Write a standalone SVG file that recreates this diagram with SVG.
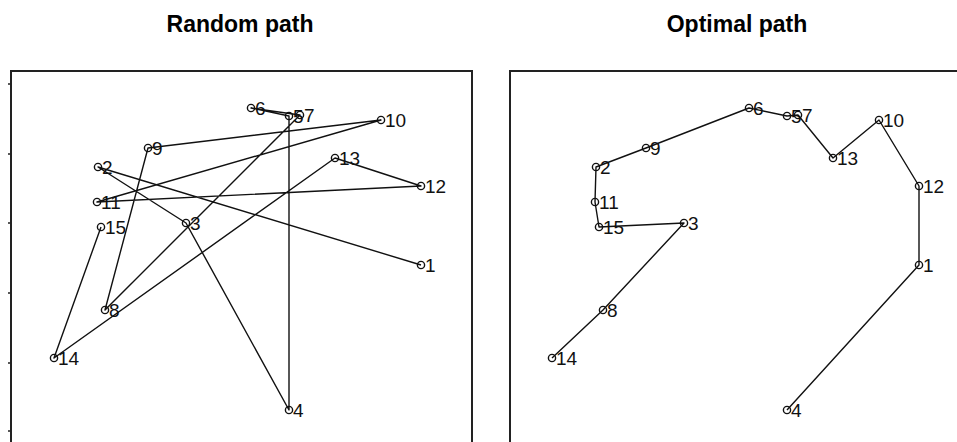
<svg xmlns="http://www.w3.org/2000/svg" width="957" height="442" viewBox="0 0 957 442">
<style>
.title{font-family:"Liberation Sans",Arial,sans-serif;font-weight:bold;font-size:23px;fill:#000;text-anchor:middle}
.frame{fill:none;stroke:#222;stroke-width:2}
.tick{stroke:#222;stroke-width:1.5}
.edge{fill:none;stroke:#111;stroke-width:1.4;stroke-linejoin:round}
.pt circle{fill:none;stroke:#111;stroke-width:1.4}
.pt text{font-family:"Liberation Sans",Arial,sans-serif;font-size:19px;fill:#111}
</style>
<rect width="957" height="442" fill="#fff"/>
<text class="title" x="240" y="32">Random path</text>
<text class="title" x="737" y="32">Optimal path</text>
<g id="frames">
<rect class="frame" x="11" y="71" width="461" height="400"/>
<rect class="frame" x="510" y="71" width="461" height="400"/>
<path class="tick" d="M8 84H11M8 154H11M8 223H11M8 293H11M8 363H11M8 431H11"/>
</g>
<g id="connectors">
<polyline id="random-path" class="edge" points="421,265 98,167 186,223 289,410 289,116 251,108 300,115 105,310 148,148 381,120 97,202 421,186 335,158 54,358 101,227"/>
<polyline id="optimal-path" class="edge" points="787,410 919,265 919,186 879,120 833,158 798,115 787,116 749,108 646,148 596,167 595,202 599,227 684,223 603,310 552,358"/>
</g>
<g id="random-nodes">
<g id="r1" class="pt"><circle cx="421" cy="265" r="3.6"/><text x="425" y="272">1</text></g>
<g id="r2" class="pt"><circle cx="98" cy="167" r="3.6"/><text x="102" y="174">2</text></g>
<g id="r3" class="pt"><circle cx="186" cy="223" r="3.6"/><text x="190" y="230">3</text></g>
<g id="r4" class="pt"><circle cx="289" cy="410" r="3.6"/><text x="293" y="417">4</text></g>
<g id="r5" class="pt"><circle cx="289" cy="116" r="3.6"/><text x="293" y="123">5</text></g>
<g id="r6" class="pt"><circle cx="251" cy="108" r="3.6"/><text x="255" y="115">6</text></g>
<g id="r7" class="pt"><circle cx="300" cy="115" r="3.6"/><text x="304" y="122">7</text></g>
<g id="r8" class="pt"><circle cx="105" cy="310" r="3.6"/><text x="109" y="317">8</text></g>
<g id="r9" class="pt"><circle cx="148" cy="148" r="3.6"/><text x="152" y="155">9</text></g>
<g id="r10" class="pt"><circle cx="381" cy="120" r="3.6"/><text x="385" y="127">10</text></g>
<g id="r11" class="pt"><circle cx="97" cy="202" r="3.6"/><text x="101" y="209">11</text></g>
<g id="r12" class="pt"><circle cx="421" cy="186" r="3.6"/><text x="425" y="193">12</text></g>
<g id="r13" class="pt"><circle cx="335" cy="158" r="3.6"/><text x="339" y="165">13</text></g>
<g id="r14" class="pt"><circle cx="54" cy="358" r="3.6"/><text x="58" y="365">14</text></g>
<g id="r15" class="pt"><circle cx="101" cy="227" r="3.6"/><text x="105" y="234">15</text></g>
</g>
<g id="optimal-nodes">
<g id="o1" class="pt"><circle cx="919" cy="265" r="3.6"/><text x="923" y="272">1</text></g>
<g id="o2" class="pt"><circle cx="596" cy="167" r="3.6"/><text x="600" y="174">2</text></g>
<g id="o3" class="pt"><circle cx="684" cy="223" r="3.6"/><text x="688" y="230">3</text></g>
<g id="o4" class="pt"><circle cx="787" cy="410" r="3.6"/><text x="791" y="417">4</text></g>
<g id="o5" class="pt"><circle cx="787" cy="116" r="3.6"/><text x="791" y="123">5</text></g>
<g id="o6" class="pt"><circle cx="749" cy="108" r="3.6"/><text x="753" y="115">6</text></g>
<g id="o7" class="pt"><circle cx="798" cy="115" r="3.6"/><text x="802" y="122">7</text></g>
<g id="o8" class="pt"><circle cx="603" cy="310" r="3.6"/><text x="607" y="317">8</text></g>
<g id="o9" class="pt"><circle cx="646" cy="148" r="3.6"/><text x="650" y="155">9</text></g>
<g id="o10" class="pt"><circle cx="879" cy="120" r="3.6"/><text x="883" y="127">10</text></g>
<g id="o11" class="pt"><circle cx="595" cy="202" r="3.6"/><text x="599" y="209">11</text></g>
<g id="o12" class="pt"><circle cx="919" cy="186" r="3.6"/><text x="923" y="193">12</text></g>
<g id="o13" class="pt"><circle cx="833" cy="158" r="3.6"/><text x="837" y="165">13</text></g>
<g id="o14" class="pt"><circle cx="552" cy="358" r="3.6"/><text x="556" y="365">14</text></g>
<g id="o15" class="pt"><circle cx="599" cy="227" r="3.6"/><text x="603" y="234">15</text></g>
</g>
</svg>
